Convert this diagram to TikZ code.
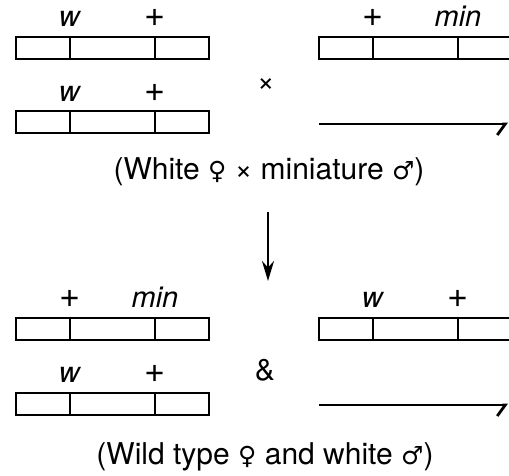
\documentclass[tikz,border=0pt]{standalone}
\usepackage{fontspec}
\setmainfont{TeX Gyre Heros}
\newfontfamily\symfont{DejaVu Sans}
\usetikzlibrary{arrows.meta,positioning}
\newcommand{\fem}{{\symfont\fontsize{25}{28}\selectfont ♀}}
\newcommand{\mal}{{\symfont\fontsize{25}{28}\selectfont ♂}}
\newcommand{\wt}{{\fontsize{36}{36}\selectfont +}}

\begin{document}
\begin{tikzpicture}[x=1pt,y=-1pt,
chr/.style={draw,line width=2pt,minimum width=193pt,minimum height=22pt,inner sep=0pt},
lbl/.style={font=\fontsize{29}{30}\selectfont,anchor=base,inner sep=0pt},
ychr/.style={line width=2.8pt,-{Straight Barb[right,length=8pt,width=22pt]}},
capt/.style={font=\fontsize{30}{34}\selectfont,inner sep=0pt},
sym/.style={font=\fontsize{30}{30}\selectfont,inner sep=0pt}]
\useasboundingbox (0,0) rectangle (509,476);
% parents
\node[chr] (pfa) at (112.5,48) {};
\node[chr] (pfb) at (112.5,122.5) {};
\node[chr] (pm) at (415.5,48) {};
\coordinate (pyl) at (319,124);
\coordinate (pyr) at (508,124);
\node[sym] (cross) at (266,85) {×};
\node[capt] (cap1) at (269,172) {(White \fem\ × miniature \mal)};
% offspring
\node[chr] (ofa) at (112.5,328.5) {};
\node[chr] (ofb) at (112.5,403.5) {};
\node[chr] (om) at (415.5,328.5) {};
\coordinate (oyl) at (319,405);
\coordinate (oyr) at (508,405);
\node[sym] (amp) at (265,370) {\&};
\node[capt] (cap2) at (265,457) {(Wild type \fem\ and white \mal)};
% dividers and gene labels
\foreach \c/\la/\lb in {pfa/\textit{w}/\wt,pfb/\textit{w}/\wt,pm/\wt/\textit{min},ofa/\wt/\textit{min},ofb/\textit{w}/\wt,om/\textit{w}/\wt}{
  \draw[line width=1.6pt] ([xshift=55pt]\c.north west) -- ([xshift=55pt]\c.south west);
  \draw[line width=1.6pt] ([xshift=140pt]\c.north west) -- ([xshift=140pt]\c.south west);
  \node[lbl] at ([xshift=55pt,yshift=9pt]\c.north west) {\la};
  \node[lbl] at ([xshift=140pt,yshift=9pt]\c.north west) {\lb};
}
% Y chromosomes
\draw[ychr] (pyl) -- (pyr);
\draw[ychr] (oyl) -- (oyr);
% generation arrow
\coordinate (gtop) at (268,212);
\coordinate (gbot) at (268,281);
\draw[line width=2.2pt,-{Stealth[length=20pt,width=12pt]}] (gtop) -- (gbot);
\end{tikzpicture}
\end{document}
